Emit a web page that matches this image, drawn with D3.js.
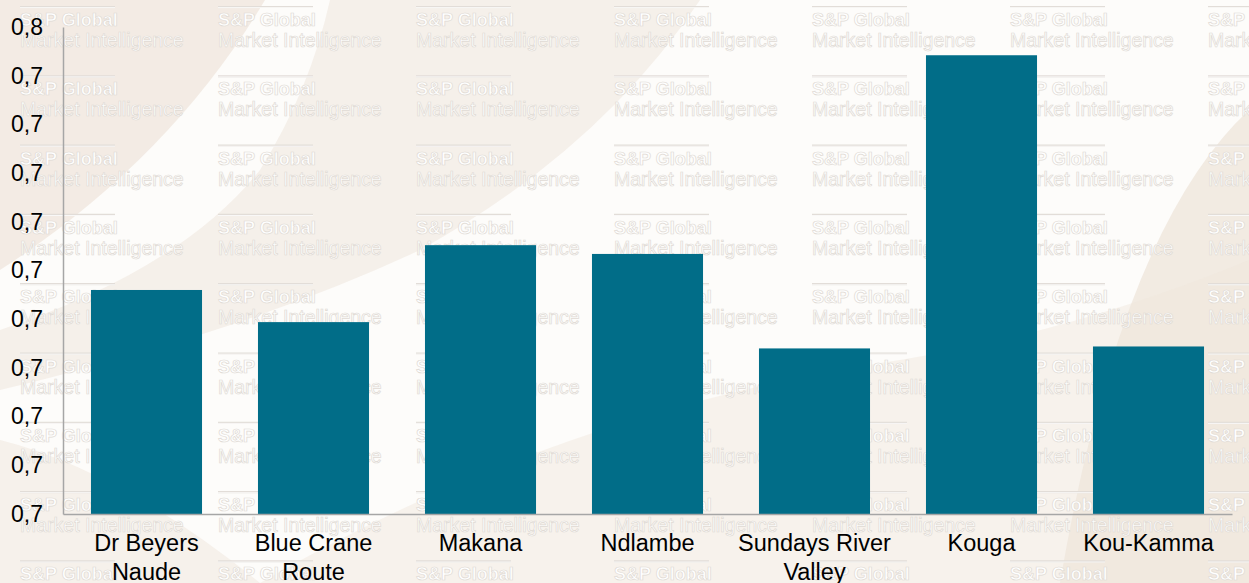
<html>
<head>
<meta charset="utf-8">
<script src="https://cdn.jsdelivr.net/npm/d3@7"></script>
<style>
  body { margin: 0; background: #fff; }
  .chart text { font-family: "Liberation Sans", Arial, sans-serif; }
</style>
</head>
<body>
<svg class="chart"></svg>
<script>
  // data
  var categories = ["Dr Beyers Naude", "Blue Crane Route", "Makana", "Ndlambe", "Sundays River Valley", "Kouga", "Kou-Kamma"];
  var values = [0.7230, 0.7197, 0.7276, 0.7267, 0.7170, 0.7471, 0.7172];
  var tickValues = [0.700, 0.705, 0.710, 0.715, 0.720, 0.725, 0.730, 0.735, 0.740, 0.745, 0.750];
  var tickLabels = ["0,7", "0,7", "0,7", "0,7", "0,7", "0,7", "0,7", "0,7", "0,7", "0,7", "0,8"];
  var watermarkTop = "S&P Global";
  var watermarkBottom = "Market Intelligence";

  var width = 1249;
  var height = 583;
  var plotLeft = 63, plotRight = 1232, plotTop = 27, plotBottom = 514;

  var chart = d3.select(".chart")
    .attr("width", width)
    .attr("height", height);

  // background swooshes
  var bg = chart.append("g");
  bg.append("rect").attr("width", width).attr("height", height).attr("fill", "#fdfcfa");
  var beige = "#efe6dc";
  bg.append("path").attr("d", "M0,0 L265,0 Q170,160 0,270 Z").attr("fill", beige).attr("opacity", 0.75);
  bg.append("path").attr("d", "M330,0 L700,0 Q600,150 420,250 Q250,330 0,390 L0,330 Q180,270 260,170 Q310,90 330,0 Z").attr("fill", beige).attr("opacity", 0.55);
  bg.append("path").attr("d", "M1249,110 Q1120,230 1060,583 L1249,583 Z").attr("fill", beige).attr("opacity", 0.8);
  bg.append("path").attr("d", "M260,583 Q560,410 900,360 Q1080,330 1249,260 L1249,583 Z").attr("fill", beige).attr("opacity", 0.45);
  bg.append("path").attr("d", "M0,440 Q120,470 260,583 L0,583 Z").attr("fill", beige).attr("opacity", 0.5);

  // watermark tiles
  var wmCols = d3.range(7), wmRows = d3.range(9);
  var wm = chart.append("g");
  wmRows.forEach(function(r) {
    wmCols.forEach(function(c) {
      var gx = 20 + c * 198, gy = 7 + r * 69.3;
      var g = wm.append("g").attr("transform", "translate(" + gx + "," + gy + ")");
      g.append("line").attr("x1", 0).attr("x2", 95).attr("y1", 0).attr("y2", 0)
        .attr("stroke", "#e2ddd8").attr("stroke-width", 2.2);
      g.append("line").attr("x1", 0).attr("x2", 95).attr("y1", 0.6).attr("y2", 0.6)
        .attr("stroke", "#fff").attr("stroke-width", 0.8);
      g.append("text").attr("x", 0).attr("y", 19)
        .attr("font-size", "18px").attr("font-weight", "bold")
        .attr("fill", "#fff").attr("stroke", "#e0dad4").attr("stroke-width", 0.7)
        .text(watermarkTop);
      g.append("text").attr("x", 0).attr("y", 40)
        .attr("font-size", "19.5px")
        .attr("fill", "#fff").attr("stroke", "#e0dad4").attr("stroke-width", 0.7)
        .text(watermarkBottom);
    });
  });

  var x = d3.scaleBand()
    .domain(categories)
    .range([plotLeft, plotRight])
    .paddingInner(0.335)
    .paddingOuter(0.1675);

  var y = d3.scaleLinear()
    .domain([tickValues[0], tickValues[tickValues.length - 1]])
    .range([plotBottom, plotTop]);

  chart.append("g").selectAll("rect")
    .data(values)
    .enter().append("rect")
      .attr("x", function(d, i) { return x(categories[i]); })
      .attr("y", function(d) { return y(d); })
      .attr("width", x.bandwidth())
      .attr("height", function(d) { return y(tickValues[0]) - y(d); })
      .attr("fill", "#016d88");

  // y axis
  var yAxis = chart.append("g")
    .attr("transform", "translate(" + plotLeft + ",0)")
    .call(d3.axisLeft(y)
      .tickValues(tickValues)
      .tickSize(0)
      .tickPadding(20)
      .tickFormat(function(d, i) { return tickLabels[i]; }));
  yAxis.select(".domain").attr("stroke", "#a6a6a6").attr("stroke-width", 1.5);
  yAxis.selectAll("text").attr("font-size", "23px").attr("fill", "#000")
    .attr("font-family", "Liberation Sans, Arial, sans-serif");

  // x axis
  var xAxis = chart.append("g")
    .attr("transform", "translate(0," + plotBottom + ")")
    .call(d3.axisBottom(x).tickSize(0).tickPadding(0).tickSizeOuter(0));
  xAxis.select(".domain").attr("stroke", "#a6a6a6").attr("stroke-width", 1.5);
  xAxis.selectAll("text")
    .attr("font-size", "23.5px").attr("fill", "#000")
    .attr("font-family", "Liberation Sans, Arial, sans-serif")
    .attr("dy", null).attr("y", 37)
    .each(function(d) {
      var t = d3.select(this);
      var words = d.split(" ");
      t.text(null);
      var line = [];
      var tspan = t.append("tspan");
      words.forEach(function(w) {
        line.push(w);
        tspan.text(line.join(" "));
        if (tspan.node().getComputedTextLength() > x.step() - 5 && line.length > 1) {
          line.pop();
          tspan.text(line.join(" "));
          line = [w];
          tspan = t.append("tspan").text(w);
        }
      });
      t.selectAll("tspan")
        .attr("x", 0)
        .attr("y", function(_, i) { return 37 + i * 29; });
    });
</script>
</body>
</html>
